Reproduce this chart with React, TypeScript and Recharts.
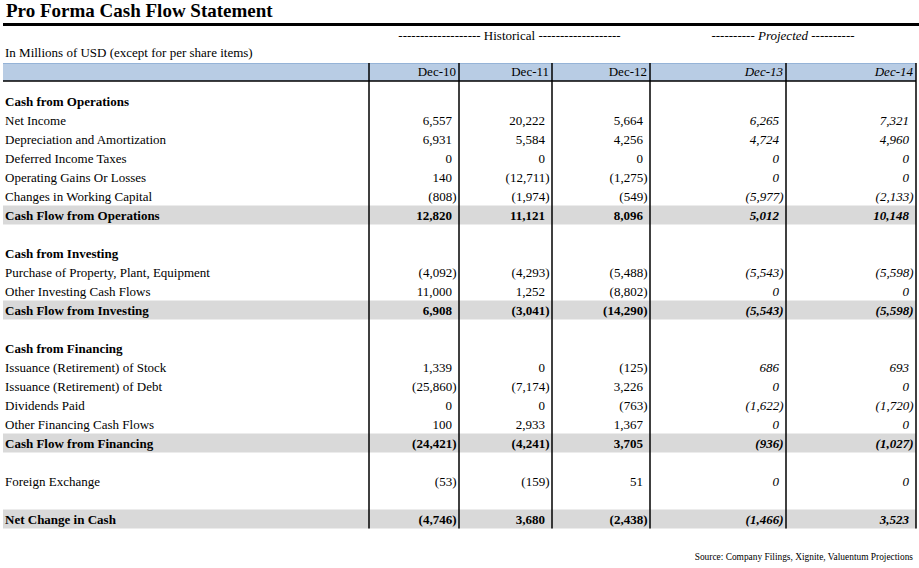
import { ComposedChart, Bar, XAxis, YAxis, ReferenceLine, Customized } from 'recharts';

// row labels and kinds (section heading, line item, total, spacer)
const rowLabels = [
  'Cash from Operations',
  'Net Income',
  'Depreciation and Amortization',
  'Deferred Income Taxes',
  'Operating Gains Or Losses',
  'Changes in Working Capital',
  'Cash Flow from Operations',
  '',
  'Cash from Investing',
  'Purchase of Property, Plant, Equipment',
  'Other Investing Cash Flows',
  'Cash Flow from Investing',
  '',
  'Cash from Financing',
  'Issuance (Retirement) of Stock',
  'Issuance (Retirement) of Debt',
  'Dividends Paid',
  'Other Financing Cash Flows',
  'Cash Flow from Financing',
  '',
  'Foreign Exchange',
  '',
  'Net Change in Cash',
];

const rowKinds = [
  'section', 'item', 'item', 'item', 'item', 'item', 'total', 'blank',
  'section', 'item', 'item', 'total', 'blank',
  'section', 'item', 'item', 'item', 'item', 'total', 'blank',
  'item', 'blank', 'total',
];

const years = ['Dec-10', 'Dec-11', 'Dec-12', 'Dec-13', 'Dec-14'];
const projected = [false, false, false, true, true];

const dec10 = [null, 6557, 6931, 0, 140, -808, 12820, null, null, -4092, 11000, 6908, null, null, 1339, -25860, 0, 100, -24421, null, -53, null, -4746];
const dec11 = [null, 20222, 5584, 0, -12711, -1974, 11121, null, null, -4293, 1252, -3041, null, null, 0, -7174, 0, 2933, -4241, null, -159, null, 3680];
const dec12 = [null, 5664, 4256, 0, -1275, -549, 8096, null, null, -5488, -8802, -14290, null, null, -125, 3226, -763, 1367, 3705, null, 51, null, -2438];
const dec13 = [null, 6265, 4724, 0, 0, -5977, 5012, null, null, -5543, 0, -5543, null, null, 686, 0, -1622, 0, -936, null, 0, null, -1466];
const dec14 = [null, 7321, 4960, 0, 0, -2133, 10148, null, null, -5598, 0, -5598, null, null, 693, 0, -1720, 0, -1027, null, 0, null, 3523];

const seriesByYear = [dec10, dec11, dec12, dec13, dec14];

const W = 919;
const H = 568;
const LEFT = 3;
const RIGHT = 916;
const TABLE_W = RIGHT - LEFT;
const TABLE_BOTTOM = 528.5;
const colEdges = [369, 459, 552, 650, 786, 916];
const FONT = '"Liberation Serif", "Times New Roman", Times, serif';

const tableData = rowLabels.map((label, i) => ({
  id: `r${i}`,
  label,
  kind: rowKinds[i],
  shade: rowKinds[i] === 'total' ? TABLE_W : 0,
  values: seriesByYear.map((s) => s[i]),
}));

const fmt = (v: number) =>
  v < 0 ? `(${Math.abs(v).toLocaleString('en-US')})` : v.toLocaleString('en-US');

// one axis tick = one table row (label + the five year columns)
const renderRow = (props: any) => {
  const { y, payload, index } = props;
  const row =
    tableData.find((r) => r.id === payload?.value) ?? tableData[payload?.index ?? index];
  if (!row) return <g />;
  const bold = row.kind === 'section' || row.kind === 'total';
  return (
    <g key={row.id} fontFamily={FONT} fontSize={13} fill="#000">
      <text x={5} y={y} dy="0.35em" fontWeight={bold ? 700 : 400} fill="#000">
        {row.label}
      </text>
      {row.values.map((v, c) =>
        v == null ? null : (
          <text
            key={c}
            x={colEdges[c + 1] - (v < 0 ? 2.5 : 7)}
            y={y}
            dy="0.35em"
            textAnchor="end"
            fill="#000"
            fontStyle={projected[c] ? 'italic' : 'normal'}
            fontWeight={row.kind === 'total' ? 700 : 400}
          >
            {fmt(v)}
          </text>
        )
      )}
    </g>
  );
};

const Frame = () => (
  <g fontFamily={FONT} fill="#000">
    <text x={6} y={17} fontSize={19} fontWeight={700}>
      Pro Forma Cash Flow Statement
    </text>
    <rect x={3} y={23} width={916} height={3} fill="#000" />
    <text x={(colEdges[0] + colEdges[3]) / 2} y={40} textAnchor="middle" fontSize={13}>
      {'------------------- Historical -------------------'}
    </text>
    <text x={(colEdges[3] + colEdges[5]) / 2} y={40} textAnchor="middle" fontSize={13}>
      {'---------- '}
      <tspan fontStyle="italic">Projected</tspan>
      {' ----------'}
    </text>
    <text x={5} y={57} fontSize={13}>
      In Millions of USD (except for per share items)
    </text>
    <rect x={LEFT} y={63} width={TABLE_W} height={18} fill="#B8CCE4" />
    <line x1={LEFT} x2={RIGHT} y1={63.5} y2={63.5} stroke="#95B3D7" />
    <line x1={LEFT} x2={RIGHT} y1={81} y2={81} stroke="#000" strokeWidth={1.5} />
    {years.map((yr, c) => (
      <text
        key={yr}
        x={colEdges[c + 1] - 3}
        y={76}
        textAnchor="end"
        fontSize={13}
        fontStyle={projected[c] ? 'italic' : 'normal'}
      >
        {yr}
      </text>
    ))}
    <text x={913} y={560} textAnchor="end" fontSize={9.4}>
      Source: Company Filings, Xignite, Valuentum Projections
    </text>
  </g>
);

export default function App() {
  return (
    <div style={{ position: 'absolute', left: 0, top: 0, width: W, height: H, background: '#fff' }}>
      <ComposedChart
        width={W}
        height={H}
        data={tableData}
        layout="vertical"
        barCategoryGap={0}
        margin={{ top: 63, right: W - RIGHT, bottom: H - TABLE_BOTTOM, left: LEFT }}
      >
        <Customized component={<Frame />} />
        <XAxis type="number" domain={[0, TABLE_W]} hide />
        <YAxis
          type="category"
          dataKey="id"
          width={1}
          mirror
          padding={{ top: 28.5, bottom: 0 }}
          tick={renderRow}
          tickLine={false}
          axisLine={false}
          interval={0}
        />
        <Bar dataKey="shade" fill="#D9D9D9" isAnimationActive={false} />
        {colEdges.map((x) => (
          <ReferenceLine key={x} x={x - LEFT} stroke="#000" strokeWidth={1.5} />
        ))}
      </ComposedChart>
    </div>
  );
}
